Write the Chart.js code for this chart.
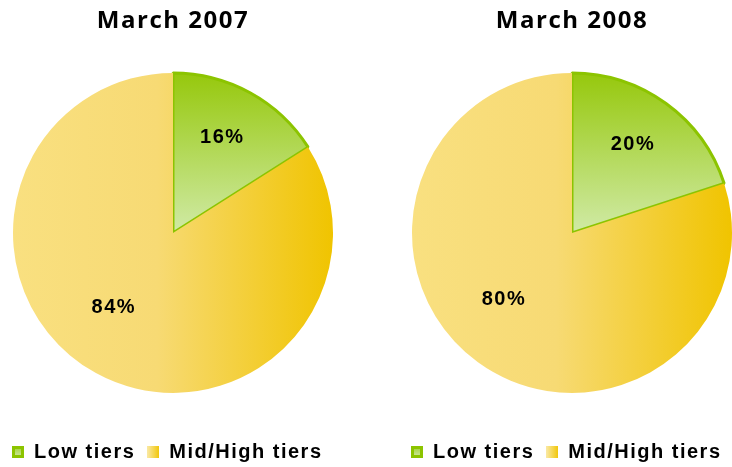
<!DOCTYPE html>
<html>
<head>
<meta charset="utf-8">
<script src="https://cdn.jsdelivr.net/npm/chart.js@4"></script>
<style>
  html, body { margin: 0; padding: 0; background: #fff; overflow: hidden; width: 732px; height: 467px; }
  .pie { position: absolute; top: 0; }
</style>
</head>
<body>
<canvas class="pie" id="pie2007" width="346" height="472" style="left:0"></canvas>
<canvas class="pie" id="pie2008" width="346" height="472" style="left:399px"></canvas>
<script>
const categories = ['Low tiers', 'Mid/High tiers'];
const shares2007 = [16, 84];
const shares2008 = [20, 80];
const title2007 = 'March 2007';
const title2008 = 'March 2008';

const R = 160;
// where the % labels sit: shift from the slice middle (degrees) and share of the radius
const labelTurn = [-2, 10];
const labelDist = [0.67, 0.6];

// the source picture has its text stretched a little, so space the letters
const spacing = {
  id: 'spacing',
  beforeUpdate(chart) { chart.ctx.letterSpacing = '1.5px'; },
  beforeLayout(chart) { chart.ctx.letterSpacing = '1.5px'; },
  beforeDraw(chart) { chart.ctx.letterSpacing = '1.5px'; }
};

const pctLabels = {
  id: 'pctLabels',
  afterDatasetsDraw(chart) {
    const ctx = chart.ctx;
    const values = chart.data.datasets[0].data;
    chart.getDatasetMeta(0).data.forEach((arc, i) => {
      const p = arc.getProps(['x', 'y', 'startAngle', 'endAngle', 'outerRadius'], true);
      const mid = (p.startAngle + p.endAngle) / 2 + labelTurn[i] * Math.PI / 180;
      const d = p.outerRadius * labelDist[i];
      ctx.save();
      ctx.font = 'bold 20px "Liberation Sans", Arial, sans-serif';
      ctx.fillStyle = '#000';
      ctx.textAlign = 'center';
      ctx.textBaseline = 'middle';
      ctx.fillText(values[i] + '%', p.x + Math.cos(mid) * d + 1, p.y + Math.sin(mid) * d);
      ctx.restore();
    });
  }
};

function sliceFill(c) {
  const chart = c.chart;
  const a = chart.chartArea;
  if (!a) return c.dataIndex === 0 ? '#9c0' : '#f7dc75';
  const cx = (a.left + a.right) / 2;
  const cy = (a.top + a.bottom) / 2;
  const ctx = chart.ctx;
  if (c.dataIndex === 0) {
    const g = ctx.createLinearGradient(0, cy - R, 0, cy);
    g.addColorStop(0, '#96c80c');
    g.addColorStop(1, '#d0eaa6');
    return g;
  }
  const g = ctx.createLinearGradient(cx - R, 0, cx + R, 0);
  g.addColorStop(0, '#f9e080');
  g.addColorStop(0.45, '#f7da74');
  g.addColorStop(1, '#f0c400');
  return g;
}

function legendSwatch(i) {
  const c = document.createElement('canvas');
  c.width = 12; c.height = 12;
  const x = c.getContext('2d');
  if (i === 0) {
    x.fillStyle = '#8cc400';
    x.fillRect(0, 0, 12, 12);
    const g = x.createLinearGradient(0, 3, 0, 9);
    g.addColorStop(0, '#a9d64a');
    g.addColorStop(1, '#c6e48e');
    x.fillStyle = g;
    x.fillRect(3, 3, 6, 6);
  } else {
    const g = x.createLinearGradient(0, 0, 12, 0);
    g.addColorStop(0, '#fae9a4');
    g.addColorStop(1, '#f1c708');
    x.fillStyle = g;
    x.fillRect(0, 0, 12, 12);
  }
  return c;
}

const swatches = [legendSwatch(0), legendSwatch(1)];

function makePie(id, title, values) {
  return new Chart(document.getElementById(id), {
    type: 'pie',
    data: {
      labels: categories,
      datasets: [{
        data: values,
        backgroundColor: sliceFill,
        borderColor: ['#8cc400', 'rgba(0,0,0,0)'],
        borderWidth: [3, 0]
      }]
    },
    options: {
      responsive: false,
      animation: false,
      radius: R,
      color: '#000',
      layout: { padding: 0 },
      plugins: {
        tooltip: { enabled: false },
        title: {
          display: true,
          text: title,
          color: '#000',
          font: { family: '"Open Sans", "Liberation Sans", sans-serif', size: 24, weight: 'bold' },
          padding: { top: 7, bottom: 0 }
        },
        legend: {
          position: 'bottom',
          align: 'start',
          labels: {
            usePointStyle: true,
            boxWidth: 12,
            boxHeight: 12,
            padding: 12,
            color: '#000',
            font: { family: '"Liberation Sans", Arial, sans-serif', size: 20, weight: 'bold' },
            generateLabels: (chart) => categories.map((name, i) => ({
              text: name,
              pointStyle: swatches[i],
              fillStyle: 'rgba(0,0,0,0)',
              strokeStyle: 'rgba(0,0,0,0)',
              lineWidth: 0,
              hidden: false,
              index: i,
              datasetIndex: 0
            }))
          }
        }
      }
    },
    plugins: [spacing, pctLabels]
  });
}

makePie('pie2007', title2007, shares2007);
makePie('pie2008', title2008, shares2008);
</script>
</body>
</html>
